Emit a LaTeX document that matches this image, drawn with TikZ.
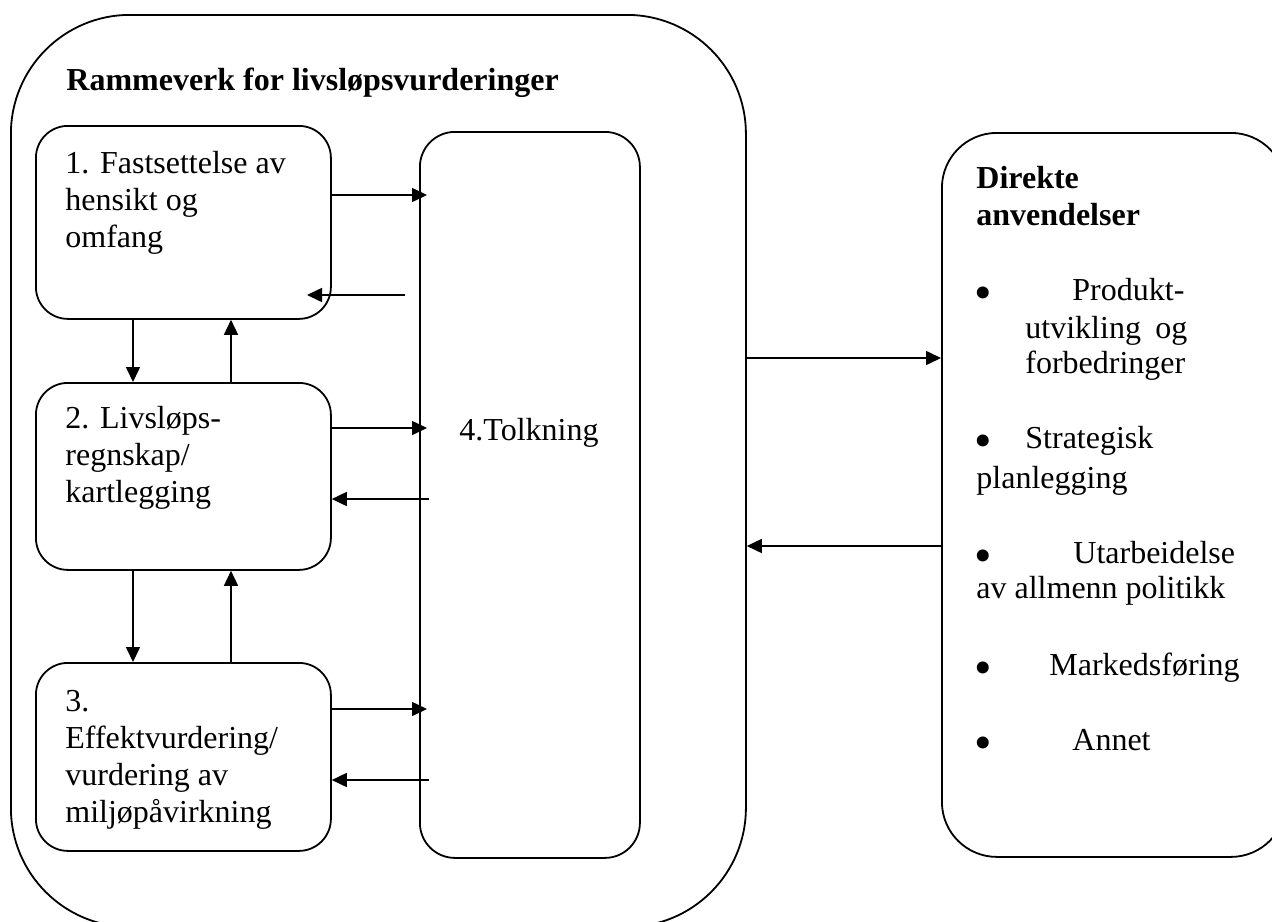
\documentclass[tikz,border=0pt]{standalone}
\usepackage{fontspec}
\setmainfont{Liberation Serif}
\usetikzlibrary{arrows.meta}

\tikzset{
  frame/.style={draw, line width=0.9pt, anchor=north west, inner sep=0pt},
  stage/.style={frame, rounded corners=16pt, minimum width=147.5pt},
  lbl/.style={anchor=base west, align=left, inner sep=0pt, font=\fontsize{16}{18.5}\selectfont},
  head/.style={lbl, font=\fontsize{16}{18.5}\selectfont\bfseries},
  dot/.style={lbl, font=\fontsize{25}{25}\selectfont},
  flow/.style={-{Triangle[length=7.5pt,width=7pt]}, line width=0.8pt},
}

\begin{document}
\begin{tikzpicture}[x=0.5pt,y=-0.5pt]
\useasboundingbox (0,0) rectangle (1272,921);

% outer frame and the applications box
\node[frame, rounded corners=59.5pt, minimum width=367.5pt, minimum height=456pt] (fr) at (10,14) {};
\node[frame, rounded corners=27.5pt, minimum width=172pt, minimum height=362pt] (da) at (941,132) {};
\node[head] (ttl) at (66,90) {Rammeverk for livsløpsvurderinger};

% the four phases
\node[stage, minimum height=96.5pt] (b1) at (35,125) {};
\node[stage, minimum height=93.5pt] (b2) at (35,382) {};
\node[stage, minimum height=94pt] (b3) at (35,662) {};
\node[frame, rounded corners=17.5pt, minimum width=110pt, minimum height=363pt] (b4) at (419,131) {};

% base = last line
\node[lbl] (t1) at (65,247) {1. Fastsettelse av\\hensikt og\\omfang};
\node[lbl] (t2) at (65,502) {2. Livsløps-\\regnskap/\\kartlegging};
\node[lbl] (t3) at (65,822) {3.\\Effektvurdering/\\vurdering av\\miljøpåvirkning};
\node[lbl] (t4) at (459,440) {4.Tolkning};

% between the phases
\coordinate (lx) at (133,0);
\coordinate (rx) at (231,0);
\draw[flow] (lx |- b1.south) -- (lx |- b2.north);
\draw[flow] (rx |- b2.north) -- (rx |- b1.south);
\draw[flow] (lx |- b2.south) -- (lx |- b3.north);
\draw[flow] (rx |- b3.north) -- (rx |- b2.south);

% to and from the interpretation
\coordinate (in1) at (427,195);
\coordinate (in2) at (427,428);
\coordinate (in3) at (427,709);
\coordinate (out1) at (405,295);
\coordinate (tip1) at (307,295);
\coordinate (out2) at (429,499);
\coordinate (out3) at (429,780);
\draw[flow] (b1.east |- in1) -- (in1);
\draw[flow] (out1) -- (tip1);
\draw[flow] (b2.east |- in2) -- (in2);
\draw[flow] (out2) -- (b2.east |- out2);
\draw[flow] (b3.east |- in3) -- (in3);
\draw[flow] (out3) -- (b3.east |- out3);

% framework and applications
\coordinate (ya) at (0,358);
\coordinate (yb) at (0,546);
\draw[flow] (fr.east |- ya) -- (da.west |- ya);
\draw[flow] (da.west |- yb) -- (fr.east |- yb);

\node[head] (dh) at (976,225) {Direkte\\anvendelser};
\foreach \y [count=\i] in {300,448,563,675,750}
  \node[dot] (bu\i) at (974,\y+9) {\smash{•}};
\node[lbl] (a1) at (1072,300) {Produkt-};
\node[lbl] (a2) at (1025,338) {\makebox[81pt][s]{utvikling og}};
\node[lbl] (a3) at (1025,373) {forbedringer};
\node[lbl] (a4) at (1025,448) {Strategisk};
\node[lbl] (a5) at (976,488) {planlegging};
\node[lbl] (a6) at (1073,563) {Utarbeidelse};
\node[lbl] (a7) at (976,598) {av allmenn politikk};
\node[lbl] (a8) at (1049,675) {Markedsføring};
\node[lbl] (a9) at (1072,750) {Annet};
\end{tikzpicture}
\end{document}
